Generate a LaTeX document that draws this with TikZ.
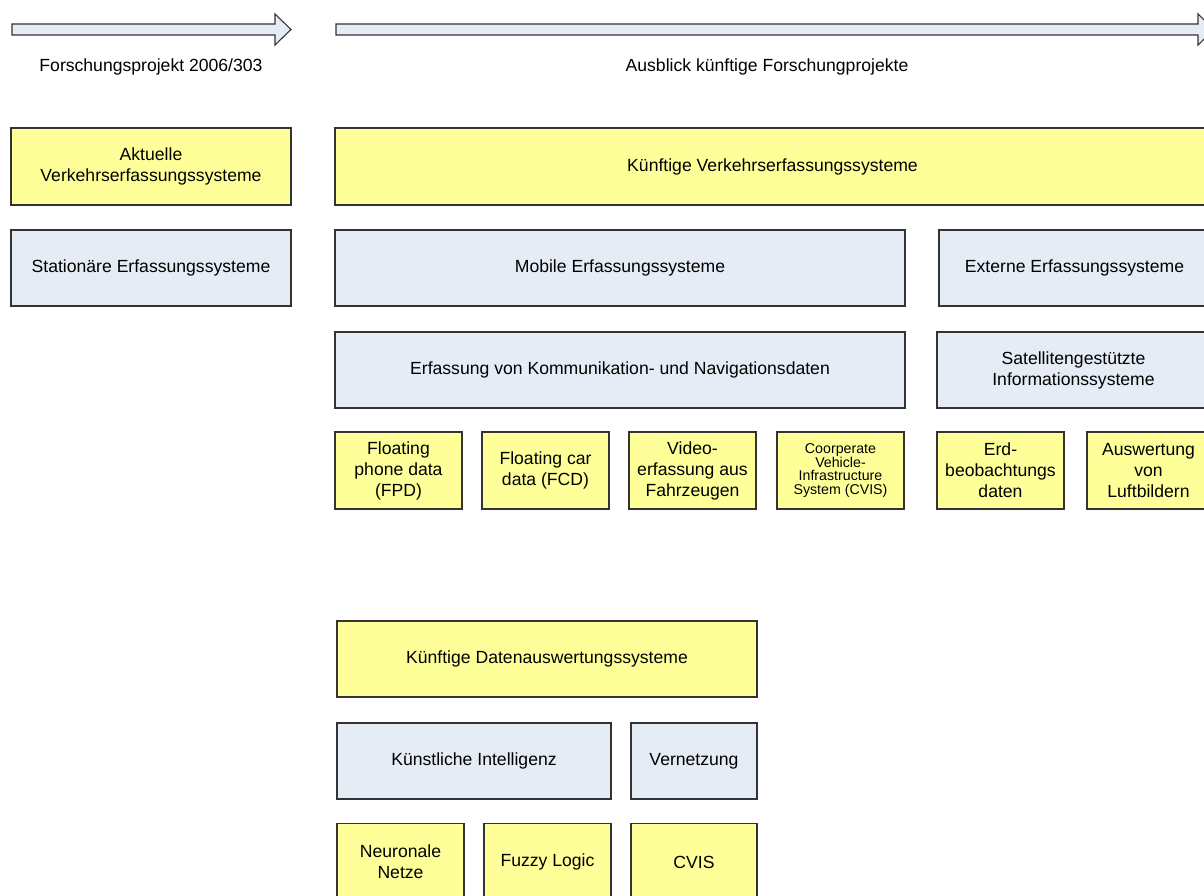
\documentclass[tikz,border=0pt]{standalone}
\usepackage{fontspec}
\setmainfont{Liberation Sans}
\definecolor{boxyellow}{HTML}{FFFF99}
\definecolor{boxblue}{HTML}{E6ECF6}
\definecolor{edge}{HTML}{333333}
\tikzset{
  base/.style={draw=edge, line width=1.1pt, align=center, inner sep=2pt, font=\fontsize{17.6}{21}\selectfont, text=black},
  ybox/.style={base, fill=boxyellow},
  bbox/.style={base, fill=boxblue},
  arrowshape/.style={draw=edge, line width=1.1pt, fill=boxblue, line join=miter},
  lbl/.style={font=\fontsize{17.6}{21}\selectfont, inner sep=0pt},
}
\begin{document}
\begin{tikzpicture}[x=1pt,y=-1pt]
\useasboundingbox (0,0) rectangle (1204,895);
\clip (0,0) rectangle (1204,895);
% timeline arrows
\draw[arrowshape] (12,24) -- (275,24) -- (275,14) -- (291,29.5) -- (275,45) -- (275,35) -- (12,35) -- cycle;
\draw[arrowshape] (336,24) -- (1198,24) -- (1198,14) -- (1214,29.5) -- (1198,45) -- (1198,35) -- (336,35) -- cycle;
\node[lbl] (l1) at (151,67) {Forschungsprojekt 2006/303};
\node[lbl] (l2) at (767,67) {Ausblick künftige Forschungprojekte};
% left column
\node[ybox, minimum width=280, minimum height=77] (akt) at (151,166.5) {Aktuelle\\Verkehrserfassungssysteme};
\node[bbox, minimum width=280, minimum height=76] (stat) at (151,268) {Stationäre Erfassungssysteme};
% future systems
\node[ybox, minimum width=875, minimum height=77] (kvs) at (772.5,166.5) {Künftige Verkehrserfassungssysteme};
\node[bbox, minimum width=570, minimum height=76] (mob) at (620,268) {Mobile Erfassungssysteme};
\node[bbox, minimum width=271, minimum height=76] (ext) at (1074.5,268) {Externe Erfassungssysteme};
\node[bbox, minimum width=570, minimum height=76] (kom) at (620,370) {Erfassung von Kommunikation- und Navigationsdaten};
\node[bbox, minimum width=273, minimum height=76] (sat) at (1073.5,370) {Satellitengestützte\\Informationssysteme};
\node[ybox, minimum width=127, minimum height=77] (fpd) at (398.5,470.5) {Floating\\phone data\\(FPD)};
\node[ybox, minimum width=127, minimum height=77] (fcd) at (545.5,470.5) {Floating car\\data (FCD)};
\node[ybox, minimum width=127, minimum height=77] (vid) at (692.5,470.5) {Video-\\erfassung aus\\Fahrzeugen};
\node[ybox, minimum width=127, minimum height=77, font=\fontsize{14.2}{13.8}\selectfont] (cvis1) at (840.5,470.5) {Coorperate\\Vehicle-\\Infrastructure\\System (CVIS)};
\node[ybox, minimum width=127, minimum height=77] (erd) at (1000.5,470.5) {Erd-\\beobachtungs\\daten};
\node[ybox, minimum width=123, minimum height=77] (luft) at (1148.5,470.5) {Auswertung\\von\\Luftbildern};
% data evaluation
\node[ybox, minimum width=420, minimum height=76] (dat) at (547,659) {Künftige Datenauswertungssysteme};
\node[bbox, minimum width=274, minimum height=76] (ki) at (474,761) {Künstliche Intelligenz};
\node[bbox, minimum width=126, minimum height=76] (vern) at (694,761) {Vernetzung};
\node[ybox, minimum width=127, minimum height=77] (nn) at (400.5,862) {Neuronale\\Netze};
\node[ybox, minimum width=127, minimum height=77] (fuzzy) at (547.5,862) {Fuzzy Logic};
\node[ybox, minimum width=126, minimum height=77] (cvis2) at (694,862) {CVIS};
\end{tikzpicture}
\end{document}
